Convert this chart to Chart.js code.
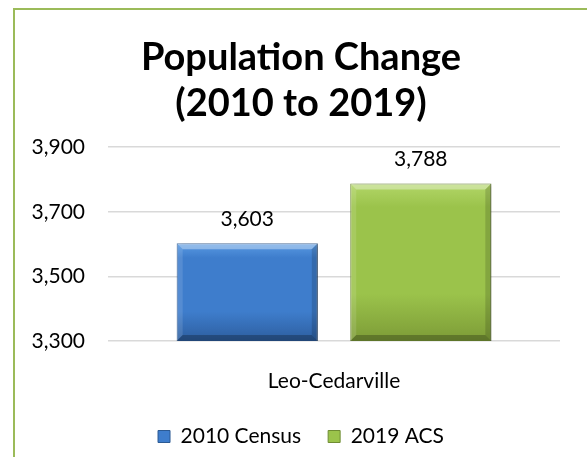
<!DOCTYPE html>
<html>
<head>
<meta charset="utf-8">
<script src="https://cdn.jsdelivr.net/npm/chart.js@4/dist/chart.umd.min.js"></script>
<style>
    html, body { margin: 0; padding: 0; background: #fff; overflow: hidden; width: 587px; height: 457px; }
    .frame {
        position: absolute; left: 13px; top: 8px; width: 600px; height: 500px;
        border-left: 2px solid #9bbb59; border-top: 2px solid #9bbb59;
    }
    .chart-box { position: absolute; left: 15px; top: 10px; width: 572px; height: 447px; }
</style>
</head>
<body>
<div class="frame"></div>
<div class="chart-box"><canvas id="popChart"></canvas></div>
<script>
// Datos del gráfico
const categories = ['Leo-Cedarville'];
const seriesNames = ['2010 Census', '2019 ACS'];
const census2010 = [3603];
const acs2019 = [3788];
const yTicks = [3300, 3500, 3700, 3900];

// Colores (arriba, medio, abajo, borde)
const blueShades = ['#5a9be3', '#3e7dcc', '#2d5e9f', '#2c5a93'];
const greenShades = ['#b2d668', '#9bc34b', '#7d9c37', '#6f8c33'];

const FONT = 'Lato, "Open Sans", sans-serif';

// Gradiente vertical para cada barra
function barGradient(shades) {
    return function (c) {
        const chart = c.chart;
        const area = chart.chartArea;
        if (!area || c.type !== 'data') return shades[1];
        const y = chart.scales.y;
        const top = y.getPixelForValue(c.raw);
        const bottom = y.getPixelForValue(y.min);
        const g = chart.ctx.createLinearGradient(0, top, 0, bottom);
        g.addColorStop(0, shades[0]);
        g.addColorStop(0.15, shades[1]);
        g.addColorStop(0.7, shades[1]);
        g.addColorStop(1, shades[2]);
        return g;
    };
}

// Sombra, bisel y etiquetas de las barras
const bevelPlugin = {
    id: 'bevel',
    beforeDatasetsDraw(chart) {
        const ctx = chart.ctx;
        ctx.save();
        ctx.shadowColor = 'rgba(0,0,0,0.35)';
        ctx.shadowBlur = 4;
        ctx.shadowOffsetX = 2;
        ctx.shadowOffsetY = 1;
    },
    afterDatasetsDraw(chart) {
        const ctx = chart.ctx;
        ctx.restore();
        const b = 6;
        const yScale = chart.scales.y;
        const btm = yScale.getPixelForValue(yScale.min);
        chart.data.datasets.forEach((ds, i) => {
            chart.getDatasetMeta(i).data.forEach(bar => {
                const l = bar.x - bar.width / 2, r = bar.x + bar.width / 2;
                const t = bar.y;
                const strip = (pts, color) => {
                    ctx.beginPath();
                    ctx.moveTo(pts[0][0], pts[0][1]);
                    pts.slice(1).forEach(p => ctx.lineTo(p[0], p[1]));
                    ctx.closePath();
                    ctx.fillStyle = color;
                    ctx.fill();
                };
                strip([[l, t], [r, t], [r - b, t + b], [l + b, t + b]], 'rgba(255,255,255,0.35)');
                strip([[l, t], [l + b, t + b], [l + b, btm - b], [l, btm]], 'rgba(255,255,255,0.12)');
                strip([[r, t], [r, btm], [r - b, btm - b], [r - b, t + b]], 'rgba(0,0,0,0.15)');
                strip([[l, btm], [l + b, btm - b], [r - b, btm - b], [r, btm]], 'rgba(0,0,0,0.25)');
            });
        });
        // Etiquetas de valores
        ctx.save();
        ctx.font = '21px ' + FONT;
        ctx.fillStyle = '#000';
        ctx.textAlign = 'center';
        ctx.textBaseline = 'middle';
        chart.data.datasets.forEach((ds, i) => {
            chart.getDatasetMeta(i).data.forEach((bar, j) => {
                ctx.fillText(ds.data[j].toLocaleString('en-US'), bar.x, bar.y - 24);
            });
        });
        ctx.restore();
    }
};

const ctx = document.getElementById('popChart').getContext('2d');
new Chart(ctx, {
    type: 'bar',
    data: {
        labels: categories,
        datasets: [{
            label: seriesNames[0],
            data: census2010,
            backgroundColor: barGradient(blueShades),
            borderColor: blueShades[3],
            borderWidth: 1
        }, {
            label: seriesNames[1],
            data: acs2019,
            backgroundColor: barGradient(greenShades),
            borderColor: greenShades[3],
            borderWidth: 1
        }]
    },
    options: {
        responsive: true,
        maintainAspectRatio: false,
        animation: false,
        devicePixelRatio: 1,
        layout: { padding: 0 },
        datasets: {
            bar: { categoryPercentage: 0.768, barPercentage: 0.813 }
        },
        scales: {
            x: {
                grid: { display: false },
                border: { display: false },
                ticks: { color: '#000', font: { family: FONT, size: 21 }, padding: 20 },
                afterFit(scale) { scale.height = 58; }
            },
            y: {
                min: yTicks[0],
                max: yTicks[yTicks.length - 1],
                afterBuildTicks(scale) { scale.ticks = yTicks.map(v => ({ value: v })); },
                grid: { color: '#d9d9d9', lineWidth: 1.5, drawTicks: false },
                border: { display: false },
                ticks: {
                    color: '#000',
                    font: { family: FONT, size: 21 },
                    padding: 23,
                    callback: v => v.toLocaleString('en-US')
                },
                afterFit(scale) { scale.width = 93; }
            },
            y2: {
                position: 'right',
                grid: { display: false },
                border: { display: false },
                ticks: { display: false },
                afterFit(scale) { scale.width = 27; }
            }
        },
        plugins: {
            title: {
                display: true,
                text: ['Population Change', '(2010 to 2019)'],
                color: '#000',
                font: { family: FONT, size: 38, weight: 'bold', lineHeight: 1.2 },
                padding: { top: 25, bottom: 21 }
            },
            legend: {
                position: 'bottom',
                labels: {
                    color: '#000',
                    font: { family: FONT, size: 21 },
                    boxWidth: 12,
                    boxHeight: 12,
                    padding: 27,
                    generateLabels(chart) {
                        const items = Chart.defaults.plugins.legend.labels.generateLabels(chart);
                        items.forEach((it, i) => {
                            const shades = i === 0 ? blueShades : greenShades;
                            it.fillStyle = shades[1];
                            it.strokeStyle = shades[3];
                            it.lineWidth = 1;
                        });
                        return items;
                    }
                }
            },
            tooltip: { enabled: false }
        }
    },
    plugins: [bevelPlugin]
});
</script>
</body>
</html>
